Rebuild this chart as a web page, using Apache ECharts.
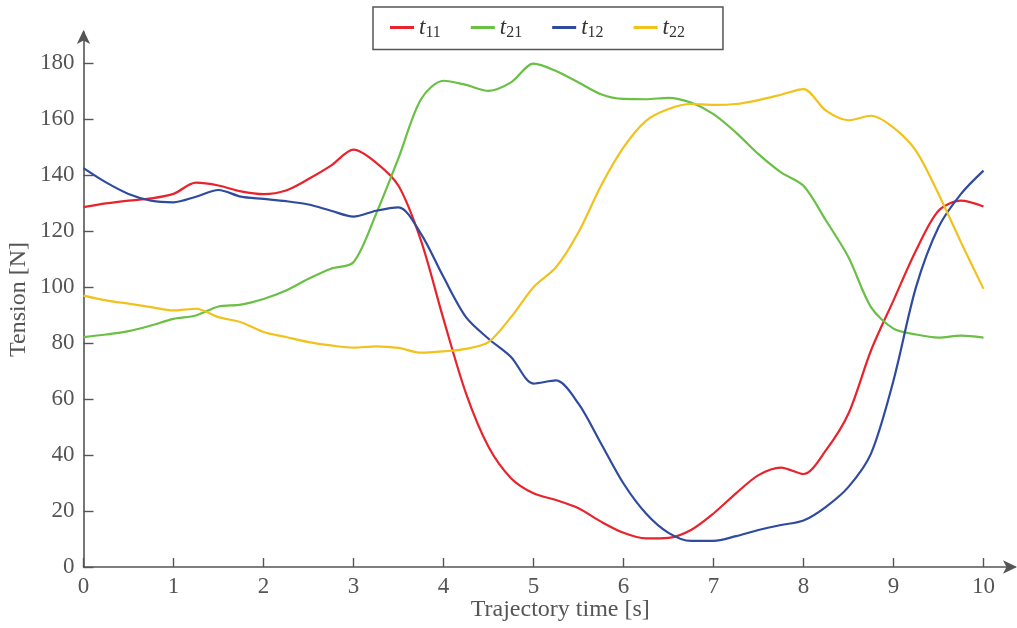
<!DOCTYPE html>
<html>
<head>
<meta charset="utf-8">
<script src="https://cdn.jsdelivr.net/npm/echarts@6/dist/echarts.min.js"></script>
<style>html,body{margin:0;padding:0;background:#fff}#c{width:1017px;height:628px}</style>
</head>
<body>
<div id="c"></div>
<script>
const times = [0,0.25,0.5,0.75,1,1.25,1.5,1.75,2,2.25,2.5,2.75,3,3.25,3.5,3.75,4,4.25,4.5,4.75,5,5.25,5.5,5.75,6,6.25,6.5,6.75,7,7.25,7.5,7.75,8,8.25,8.5,8.75,9,9.25,9.5,9.75,10];
const t11 = [128.5,129.8,130.8,131.6,133.2,137.2,136.2,134.1,133.1,134.4,138.5,143.3,149,144.4,136.1,116.5,88.5,62,42.9,31.7,26.3,23.9,21,16.2,12.2,10.2,10.4,13.2,19.1,26.3,32.8,35.5,33.2,41.7,54.8,77.3,95.2,113,127.2,130.8,128.7];
const t21 = [82.1,83,84.2,86.2,88.6,89.8,93,93.7,95.7,98.7,102.9,106.5,108.8,126,146,167,173.6,172.1,170,173,179.7,177.1,173,168.8,167.1,167,167.5,165.8,161.7,155.1,147.4,140.9,136.1,123.7,110.6,92.8,85.1,83,81.9,82.6,81.9];
const t12 = [142.4,137.3,133.2,130.8,130.2,132.2,134.6,132.2,131.4,130.6,129.4,127.2,125.1,127.2,128.4,118.9,103.5,89.2,81.5,75,65.5,66.6,58.3,44.1,29.8,19.1,12.2,9.3,9.3,11,13.2,15,16.6,21.5,28.6,40.5,66.6,99.9,121.3,133.2,141.5];
const t22 = [96.9,95.2,94,92.8,91.6,92.2,89.2,87.4,83.9,82.1,80.3,79.1,78.3,78.8,78.2,76.5,77,77.9,80.3,89.2,99.9,107,119.5,136.1,149.8,159.3,163.5,165.3,165,165.3,166.7,168.6,170.6,162.9,159.5,161.1,156.9,148.6,133.2,115.9,99.3];
const xTicks = [0,1,2,3,4,5,6,7,8,9,10];
const yTicks = [0,20,40,60,80,100,120,140,160,180];
const names = ['t11','t21','t12','t22'];
const colors = ['#e8232b','#6abf45','#2f4b9f','#f1c21b'];
const seriesData = [t11,t21,t12,t22];

const chart = echarts.init(document.getElementById('c'));
const axisCol = '#555';
const font = '"Liberation Serif","DejaVu Serif",serif';
chart.setOption({
  animation: false,
  backgroundColor: '#fff',
  textStyle: {fontFamily: font},
  grid: {left: 83.5, right: 2, top: 32, bottom: 61, containLabel: false, outerBoundsMode: 'none'},
  legend: {
    left: 373, top: 7,
    padding: [9, 38, 9, 17],
    borderColor: '#555', borderWidth: 1.5,
    icon: 'rect', itemWidth: 24, itemHeight: 3, itemGap: 30,
    data: names,
    formatter: function (n) { return '{i|t}{s|' + n.slice(1) + '}'; },
    textStyle: {
      fontFamily: font, color: '#333',
      rich: {
        i: {fontFamily: font, fontStyle: 'italic', fontSize: 23, color: '#333'},
        s: {fontFamily: font, fontSize: 16, color: '#333', verticalAlign: 'bottom', padding: [10, 0, 0, 0]}
      }
    }
  },
  xAxis: {
    type: 'value', min: 0, max: 10.35,
    name: 'Trajectory time [s]', nameLocation: 'middle', nameGap: 31, nameMoveOverlap: false,
    nameTextStyle: {fontFamily: font, fontSize: 24, color: axisCol, padding: [0, 0, 0, 22]},
    axisLine: {show: true, lineStyle: {color: axisCol, width: 1.6}, symbol: ['none', 'arrow'], symbolSize: [10, 14], symbolOffset: [0, 2]},
    axisTick: {show: true, inside: true, length: 9, lineStyle: {color: axisCol, width: 1.4}, customValues: xTicks},
    axisLabel: {fontFamily: font, fontSize: 23, color: axisCol, margin: 8, customValues: xTicks},
    splitLine: {show: false}
  },
  yAxis: {
    type: 'value', min: 0, max: 191,
    name: 'Tension [N]', nameLocation: 'middle', nameGap: 53, nameRotate: 90, nameMoveOverlap: false,
    nameTextStyle: {fontFamily: font, fontSize: 24, color: axisCol},
    axisLine: {show: true, lineStyle: {color: axisCol, width: 1.6}, symbol: ['none', 'arrow'], symbolSize: [10, 14], symbolOffset: [0, 2]},
    axisTick: {show: true, inside: true, length: 10, lineStyle: {color: axisCol, width: 1.4}, customValues: yTicks},
    axisLabel: {fontFamily: font, fontSize: 23, color: axisCol, margin: 9, customValues: yTicks},
    splitLine: {show: false}
  },
  series: names.map((n, k) => ({
    name: n, type: 'line', showSymbol: false, smooth: 0.3,
    color: colors[k],
    lineStyle: {color: colors[k], width: 2.2},
    data: times.map((t, i) => [t, seriesData[k][i]])
  }))
});
</script>
</body>
</html>
